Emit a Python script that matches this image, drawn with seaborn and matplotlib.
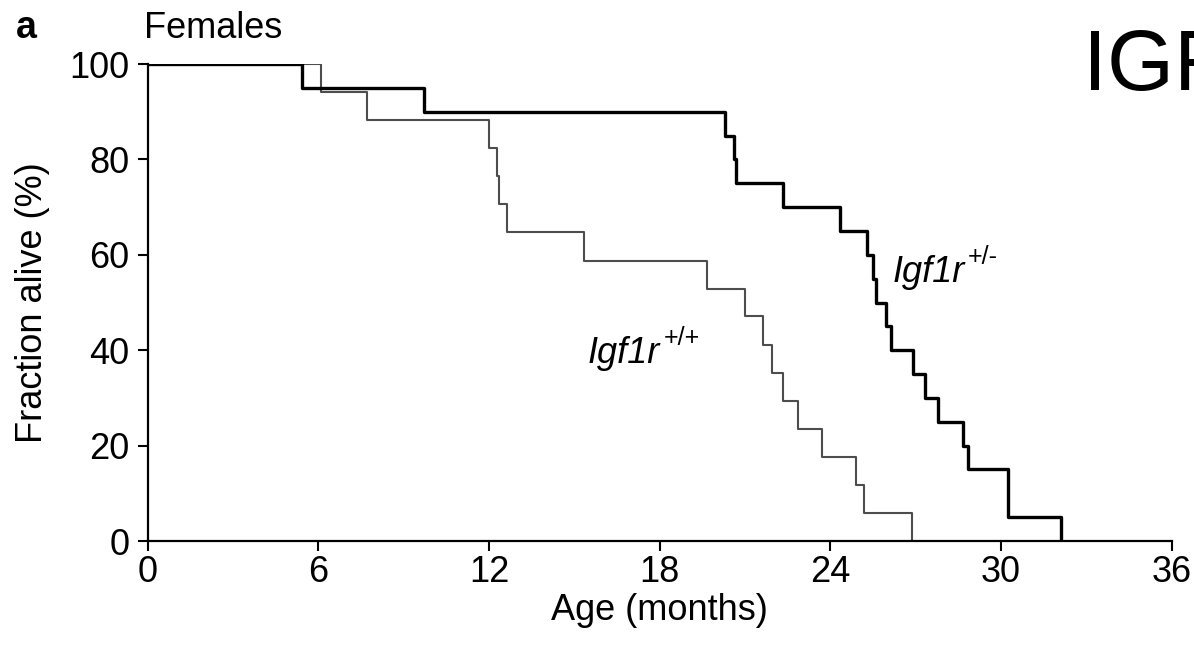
import numpy as np
import pandas as pd
import seaborn as sns
import matplotlib.pyplot as plt

# Kaplan-Meier style survival (months, % alive)
het_months = [0, 5.41, 9.72, 20.3, 20.6, 20.7, 22.34, 24.34, 25.3, 25.5, 25.6,
              25.96, 26.14, 26.9, 27.33, 27.8, 28.67, 28.84, 30.25, 32.1]
het_alive = [100, 95, 90, 85, 80, 75, 70, 65, 60, 55, 50,
             45, 40, 35, 30, 25, 20, 15, 5, 0]

wt_months = [0, 6.09, 7.71, 12.0, 12.27, 12.35, 12.63, 15.34, 19.65, 21.0,
             21.64, 21.95, 22.34, 22.87, 23.71, 24.9, 25.18, 26.87]
wt_alive = [100, 94.1, 88.2, 82.4, 76.5, 70.6, 64.7, 58.8, 52.9, 47.1,
            41.2, 35.3, 29.4, 23.5, 17.6, 11.8, 5.9, 0]

x_ticks = [0, 6, 12, 18, 24, 30, 36]
y_ticks = [0, 20, 40, 60, 80, 100]

het = pd.DataFrame({'age': het_months, 'alive': het_alive})
wt = pd.DataFrame({'age': wt_months, 'alive': wt_alive})

sns.set_style('ticks')
plt.rcParams['font.family'] = ['Liberation Sans', 'DejaVu Sans']
plt.rcParams['text.color'] = 'black'
plt.rcParams['axes.labelcolor'] = 'black'

fig = plt.figure(figsize=(11.94, 6.47), dpi=100)
ax = fig.add_axes([0.1237, 0.1638, 0.8576, 0.7372])

sns.lineplot(data=wt, x='age', y='alive', ax=ax, color='#4d4d4d', linewidth=1.5,
             drawstyle='steps-post', estimator=None, sort=False)
sns.lineplot(data=het, x='age', y='alive', ax=ax, color='black', linewidth=2.4,
             drawstyle='steps-post', estimator=None, sort=False)

ax.set_xlim(0, 36)
ax.set_ylim(0, 100)
ax.set_xticks(x_ticks)
ax.set_yticks(y_ticks)
sns.despine(ax=ax)
for s in ['left', 'bottom']:
    ax.spines[s].set_linewidth(1.6)
    ax.spines[s].set_color('black')
ax.tick_params(axis='both', labelsize=26, length=7, width=1.5, colors='black')
ax.tick_params(axis='y', pad=6)
ax.tick_params(axis='x', pad=3)
ax.set_xlabel('Age (months)', fontsize=26, labelpad=2)
ax.set_ylabel('Fraction alive (%)', fontsize=26, labelpad=14)

# genotype labels: italic name plus upright superscript
t1 = ax.text(26.2, 54.3, 'Igf1r', fontsize=26, style='italic')
ax.annotate('+/-', xy=(1.04, 0.6), xycoords=t1, fontsize=18, va='bottom')
t2 = ax.text(15.45, 37.3, 'Igf1r', fontsize=26, style='italic')
ax.annotate('+/+', xy=(1.06, 0.6), xycoords=t2, fontsize=18, va='bottom')

fig.text(0.013, 0.942, 'a', fontsize=27, fontweight='bold')
fig.text(0.121, 0.942, 'Females', fontsize=26)
fig.text(0.907, 0.861, 'IGF', fontsize=62)

fig.savefig('out.png', dpi=100)
